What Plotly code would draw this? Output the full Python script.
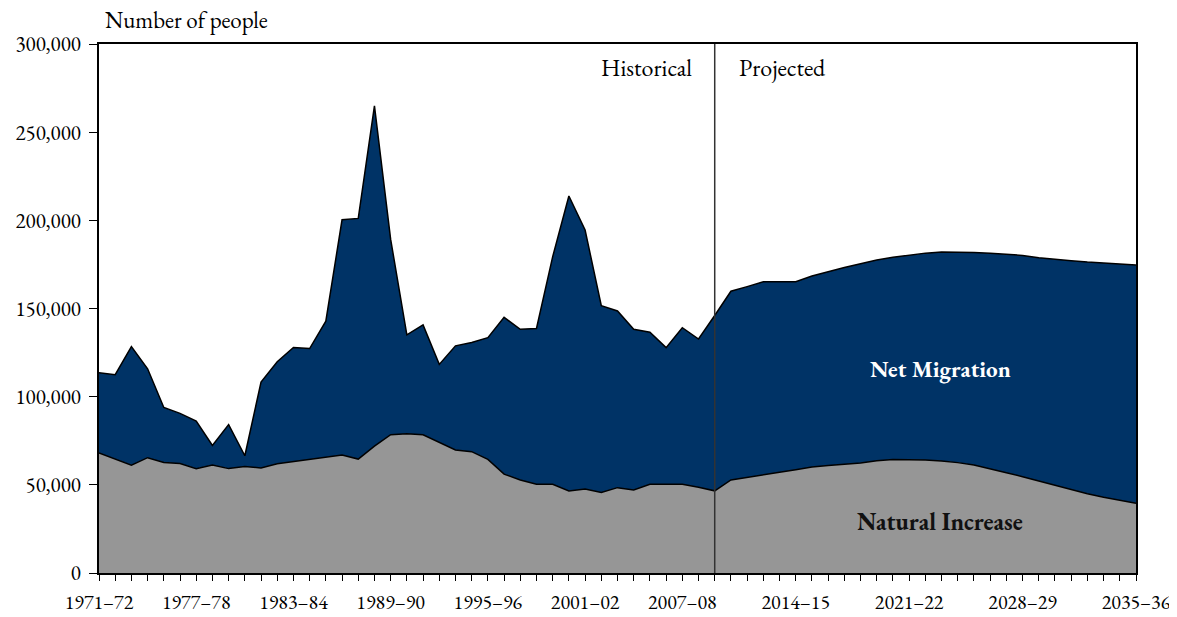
import plotly.graph_objects as go

# Years 1971-72 .. 2035-36 (65 categories)
years = [f"{y}\u2013{str(y + 1)[-2:]}" for y in range(1971, 2036)]

natural_increase = [
    68100, 64600, 61200, 65400, 62700, 62100, 59200, 61200, 59200, 60400,
    59600, 61900, 63100, 64600, 65900, 66900, 64600, 71900, 78400, 79000,
    78400, 74200, 69800, 68800, 64400, 56100, 52700, 50300, 50300, 46500,
    47600, 45700, 48400, 47100, 50300, 50300, 50300, 48600, 46600, 52800,
    54100, 55600, 57100, 58600, 60100, 60900, 61600, 62400, 63700, 64300,
    64200, 64100, 63500, 62600, 61200, 59200, 56900, 54600, 52200, 49500,
    47300, 45000, 42900, 41000, 39500,
]
net_migration = [
    45400, 47900, 67200, 50400, 31200, 28400, 26900, 11100, 25000, 6100,
    48700, 57900, 64800, 62700, 76900, 133400, 136500, 193000, 110800, 56100,
    62300, 44100, 59000, 61900, 69100, 88900, 85500, 88400, 129100, 167300,
    146900, 105900, 100200, 91100, 86200, 77500, 88800, 84100, 99400, 107000,
    108300, 109600, 108100, 106600, 108300, 110000, 111700, 113000, 113800, 114700,
    116200, 117300, 118500, 119400, 120600, 122100, 123800, 125500, 126600, 128300,
    129800, 131300, 132900, 134000, 135100,
]

label_years = ["1971\u201372", "1977\u201378", "1983\u201384", "1989\u201390", "1995\u201396",
               "2001\u201302", "2007\u201308", "2014\u201315", "2021\u201322", "2028\u201329",
               "2035\u201336"]
split_year = "2009\u201310"  # boundary historical / projected

FONT = "Garamond, 'EB Garamond', 'Liberation Serif', serif"
NAVY = "#003366"
GREY = "#969696"

x = list(range(len(years)))
tick_pos = [years.index(lbl) for lbl in label_years]
split_x = years.index(split_year)

fig = go.Figure()
fig.add_trace(go.Scatter(
    x=x, y=natural_increase, name="Natural Increase", stackgroup="one",
    mode="lines", line=dict(color="black", width=1.5), fillcolor=GREY,
))
fig.add_trace(go.Scatter(
    x=x, y=net_migration, name="Net Migration", stackgroup="one",
    mode="lines", line=dict(color="black", width=1.5), fillcolor=NAVY,
))

fig.add_shape(type="line", xref="x", yref="paper", x0=split_x, x1=split_x,
              y0=0, y1=1, line=dict(color="#333333", width=1.5))

fig.add_annotation(x=0.004, y=1.046, xref="paper", yref="paper", text="Number of people",
                   showarrow=False, xanchor="left", yanchor="middle",
                   font=dict(size=23, color="black"))
fig.add_annotation(x=split_x, y=0.9565, xref="x", yref="paper", text="Historical",
                   showarrow=False, xanchor="right", yanchor="middle", xshift=-21,
                   font=dict(size=24, color="black"))
fig.add_annotation(x=split_x, y=0.9565, xref="x", yref="paper", text="Projected",
                   showarrow=False, xanchor="left", yanchor="middle", xshift=22,
                   font=dict(size=24, color="black"))
fig.add_annotation(x=0.811, y=0.3856, xref="paper", yref="paper", text="<b>Net Migration</b>",
                   showarrow=False, xanchor="center", yanchor="middle",
                   font=dict(size=23, color="white"))
fig.add_annotation(x=0.811, y=0.098, xref="paper", yref="paper", text="<b>Natural Increase</b>",
                   showarrow=False, xanchor="center", yanchor="middle",
                   font=dict(size=24, color="#111111"))

# page body has an 8px default margin, so the figure is a bit smaller than the window
fig.update_layout(
    width=1169, height=609,
    margin=dict(l=91, r=41, t=36, b=44),
    paper_bgcolor="white", plot_bgcolor="white",
    showlegend=False,
    font=dict(family=FONT, size=21, color="black"),
)
fig.update_xaxes(
    range=[0, len(years) - 1], automargin=False,
    tickmode="array", tickvals=tick_pos, ticktext=label_years,
    tickfont=dict(size=20), ticklabelstandoff=4,
    ticks="outside", ticklen=6, tickcolor="black",
    minor=dict(tickmode="linear", tick0=0, dtick=1, ticks="outside", ticklen=6,
               tickcolor="black"),
    showline=True, linecolor="black", linewidth=2, mirror=True,
    showgrid=False, zeroline=False,
)
fig.update_yaxes(
    range=[0, 300000], dtick=50000, tickformat=",", automargin=False,
    ticklabelstandoff=4,
    ticks="outside", ticklen=8, tickcolor="black",
    showline=True, linecolor="black", linewidth=2, mirror=True,
    showgrid=False, zeroline=False,
)

fig.write_html("out.html")
